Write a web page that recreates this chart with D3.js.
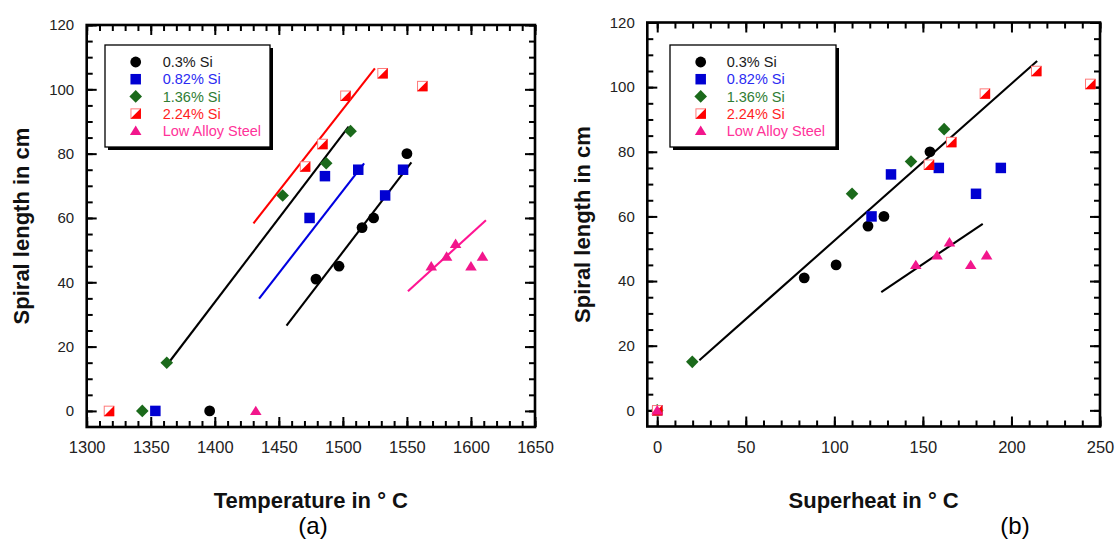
<!DOCTYPE html>
<html><head><meta charset="utf-8">
<script src="https://cdn.jsdelivr.net/npm/d3@7/dist/d3.min.js"></script>
<style>
body{margin:0;background:#fff}
svg{display:block}
text{font-family:"Liberation Sans",Arial,sans-serif}
</style>
</head><body>
<svg id="chart" width="1115" height="541"></svg>
<script>
// ---------------- DATA ----------------
const seriesNames = ["0.3% Si", "0.82% Si", "1.36% Si", "2.24% Si", "Low Alloy Steel"];

// Panel (a): Temperature (°C) vs spiral length (cm)
const tempSi030 = [[1396,0],[1479,41],[1497,45],[1515,57],[1524,60],[1550,80]];
const tempSi082 = [[1353.6,0],[1474,60],[1486,73],[1512,75],[1533,67],[1547,75]];
const tempSi136 = [[1343.4,0],[1362.5,15],[1453,67],[1487,77],[1506,87]];
const tempSi224 = [[1317.4,0],[1470.5,76],[1484,83],[1502,98],[1531,105],[1562,101]];
const tempLowAlloy = [[1432,0],[1569,45],[1581,48],[1588,52],[1600,45],[1609,48]];

const tempFitSi030 = [[1456,26.5],[1553.5,77.3]];
const tempFitSi082 = [[1434.6,34.9],[1516.6,77.0]];
const tempFitSi136 = [[1362.5,14.2],[1504.5,88.4]];
const tempFitSi224 = [[1430.2,58.3],[1525,106.5]];
const tempFitLowAlloy = [[1550.8,37.2],[1611.7,59.3]];

// Panel (b): Superheat (°C) vs spiral length (cm)
const superSi030 = [[0,0],[83,41],[101,45],[119,57],[128,60],[154,80]];
const superSi082 = [[0,0],[121,60],[132,73],[159,75],[180,67],[194,75]];
const superSi136 = [[0,0],[19.8,15],[110,67],[143.3,77],[162,87]];
const superSi224 = [[0,0],[153.4,76],[166,83],[185,98],[214,105],[244.5,101]];
const superLowAlloy = [[0,0],[146,45],[158,48],[165,52],[177,45],[186,48]];

const superFitSi = [[23.8,15.5],[214.5,108.1]];
const superFitLowAlloy = [[126.5,36.6],[183.8,57.7]];

// Ticks
const tempTicks = [1300,1350,1400,1450,1500,1550,1600,1650];
const superTicks = [0,50,100,150,200,250];
const lengthTicks = [0,20,40,60,80,100,120];

// ---------------- STYLE / LAYOUT ----------------
const markerTypes = ["circle","square","diamond","half","triangle"];
const markerColors = ["#000000","#0000d2","#1b6a1b","#ff0000","#f2168c"];
const legendTextColors = ["#1a1a1a","#2b2bf2","#2f7d33","#ff1f1f","#ff3399"];

const svg = d3.select("#chart");

function markerPath(type, s) {
  const h = s/2;
  switch(type) {
    case "square": return `M${-h},${-h}H${h}V${h}H${-h}Z`;
    case "diamond": { const d = s*0.6; return `M0,${-d}L${d},0L0,${d}L${-d},0Z`; }
    case "triangle": { const w = s*0.55, t = s*0.5; return `M0,${-t}L${w},${t*0.8}L${-w},${t*0.8}Z`; }
    default: return "";
  }
}

function drawMarker(g, type, cx, cy, color) {
  const s = 10.5;
  const mg = g.append("g").attr("transform", `translate(${cx},${cy})`);
  if (type === "circle") {
    mg.append("circle").attr("r", 5.4).attr("fill", color);
  } else if (type === "half") {
    const h = s/2;
    mg.append("rect").attr("x",-h+0.5).attr("y",-h+0.5).attr("width",s-1).attr("height",s-1)
      .attr("fill","#fff").attr("stroke","#ff7a7a").attr("stroke-width",1);
    mg.append("path").attr("d", `M${-h},${h}L${h},${-h}L${h},${h}Z`).attr("fill", color);
  } else {
    mg.append("path").attr("d", markerPath(type, s)).attr("fill", color);
  }
}

function panel(cfg) {
  const x = d3.scaleLinear().domain(cfg.xDomain).range([cfg.left, cfg.right]);
  const y = d3.scaleLinear().domain([-5,120]).range([cfg.bottom, cfg.top]);
  const g = svg.append("g");

  const xMinor = d3.range(cfg.xTicks[0], cfg.xTicks[cfg.xTicks.length-1]+0.1, 10);
  const yMinor = d3.range(0, 120.1, 5);
  const tickStroke = (sel) => { sel.select(".domain").remove(); sel.selectAll("line").attr("stroke","#000").attr("stroke-width",2); };

  // minor ticks (all four sides, inward)
  g.append("g").attr("transform",`translate(0,${cfg.bottom})`)
    .call(d3.axisBottom(x).tickValues(xMinor).tickSize(-6).tickFormat("")).call(tickStroke);
  g.append("g").attr("transform",`translate(0,${cfg.top})`)
    .call(d3.axisTop(x).tickValues(xMinor).tickSize(-6).tickFormat("")).call(tickStroke);
  g.append("g").attr("transform",`translate(${cfg.left},0)`)
    .call(d3.axisLeft(y).tickValues(yMinor).tickSize(-6).tickFormat("")).call(tickStroke);
  g.append("g").attr("transform",`translate(${cfg.right},0)`)
    .call(d3.axisRight(y).tickValues(yMinor).tickSize(-6).tickFormat("")).call(tickStroke);

  // major ticks
  const xb = g.append("g").attr("transform",`translate(0,${cfg.bottom})`)
    .call(d3.axisBottom(x).tickValues(cfg.xTicks).tickSize(-10).tickPadding(14.5).tickFormat(d3.format("d"))).call(tickStroke);
  xb.selectAll("text").attr("font-size",16.5).attr("fill","#222").attr("font-family",'"Liberation Sans",Arial,sans-serif');
  g.append("g").attr("transform",`translate(0,${cfg.top})`)
    .call(d3.axisTop(x).tickValues(cfg.xTicks).tickSize(-10).tickFormat("")).call(tickStroke);
  const yl = g.append("g").attr("transform",`translate(${cfg.left},0)`)
    .call(d3.axisLeft(y).tickValues(lengthTicks).tickSize(-10).tickPadding(12.5)).call(tickStroke);
  yl.selectAll("text").attr("font-size",15).attr("fill","#222").attr("font-family",'"Liberation Sans",Arial,sans-serif');
  g.append("g").attr("transform",`translate(${cfg.right},0)`)
    .call(d3.axisRight(y).tickValues(lengthTicks).tickSize(-10).tickFormat("")).call(tickStroke);

  // frame
  g.append("rect").attr("x",cfg.left).attr("y",cfg.top)
    .attr("width",cfg.right-cfg.left).attr("height",cfg.bottom-cfg.top)
    .attr("fill","none").attr("stroke","#000").attr("stroke-width",2.6);

  // fit lines
  const line = d3.line().x(d=>x(d[0])).y(d=>y(d[1]));
  cfg.fits.forEach(f => {
    g.append("path").attr("d", line(f.data)).attr("fill","none")
      .attr("stroke", f.color).attr("stroke-width",2.1);
  });

  // markers
  cfg.series.forEach((s,i) => {
    s.forEach(d => drawMarker(g, markerTypes[i], x(d[0]), y(d[1]), markerColors[i]));
  });

  // legend
  const L = cfg.legend;
  g.append("rect").attr("x",L.x+3).attr("y",L.y+3).attr("width",L.w).attr("height",L.h).attr("fill","#000");
  g.append("rect").attr("x",L.x).attr("y",L.y).attr("width",L.w).attr("height",L.h)
    .attr("fill","#fff").attr("stroke","#000").attr("stroke-width",1.3);
  seriesNames.forEach((n,i) => {
    const yy = L.y + 17 + i*17.2;
    drawMarker(g, markerTypes[i], L.mx, yy, markerColors[i]);
    g.append("text").attr("x",L.tx).attr("y",yy).attr("dy","0.36em")
      .attr("font-size",14.5).attr("fill",legendTextColors[i]).text(n);
  });

  // axis titles
  g.append("text").attr("x",(cfg.left+cfg.right)/2).attr("y",cfg.xTitleY)
    .attr("text-anchor","middle").attr("font-size",22).attr("font-weight","bold")
    .attr("fill","#111").text(cfg.xTitle);
  const cy = (cfg.top+cfg.bottom)/2;
  g.append("text").attr("transform",`translate(${cfg.yTitleX},${cy}) rotate(-90)`)
    .attr("text-anchor","middle").attr("dy","0.35em").attr("font-size",22).attr("font-weight","bold")
    .attr("fill","#111").text("Spiral length in cm");
  g.append("text").attr("x",cfg.capX).attr("y",534)
    .attr("text-anchor","middle").attr("font-size",24)
    .attr("font-family",'"Liberation Serif","Times New Roman",serif').attr("fill","#000").text(cfg.caption);
}

panel({
  xDomain:[1300,1650], left:86.7, right:535, top:25, bottom:427,
  xTicks: tempTicks,
  series:[tempSi030,tempSi082,tempSi136,tempSi224,tempLowAlloy],
  fits:[
    {data:tempFitSi030,color:"#000"},
    {data:tempFitSi082,color:"#0000e0"},
    {data:tempFitSi136,color:"#000"},
    {data:tempFitSi224,color:"#ff0000"},
    {data:tempFitLowAlloy,color:"#ff1493"}
  ],
  legend:{x:105,y:45,w:165,h:102,mx:135.7,tx:162.7},
  xTitle:"Temperature in \u00b0 C", xTitleY:508, yTitleX:21.5,
  caption:"(a)", capX:313
});

panel({
  xDomain:[-5.6,250], left:647.3, right:1100, top:22.5, bottom:426.5,
  xTicks: superTicks,
  series:[superSi030,superSi082,superSi136,superSi224,superLowAlloy],
  fits:[
    {data:superFitSi,color:"#000"},
    {data:superFitLowAlloy,color:"#000"}
  ],
  legend:{x:670,y:45,w:166,h:102,mx:700.7,tx:726.7},
  xTitle:"Superheat in \u00b0 C", xTitleY:508, yTitleX:582,
  caption:"(b)", capX:1015
});
</script>
</body></html>
